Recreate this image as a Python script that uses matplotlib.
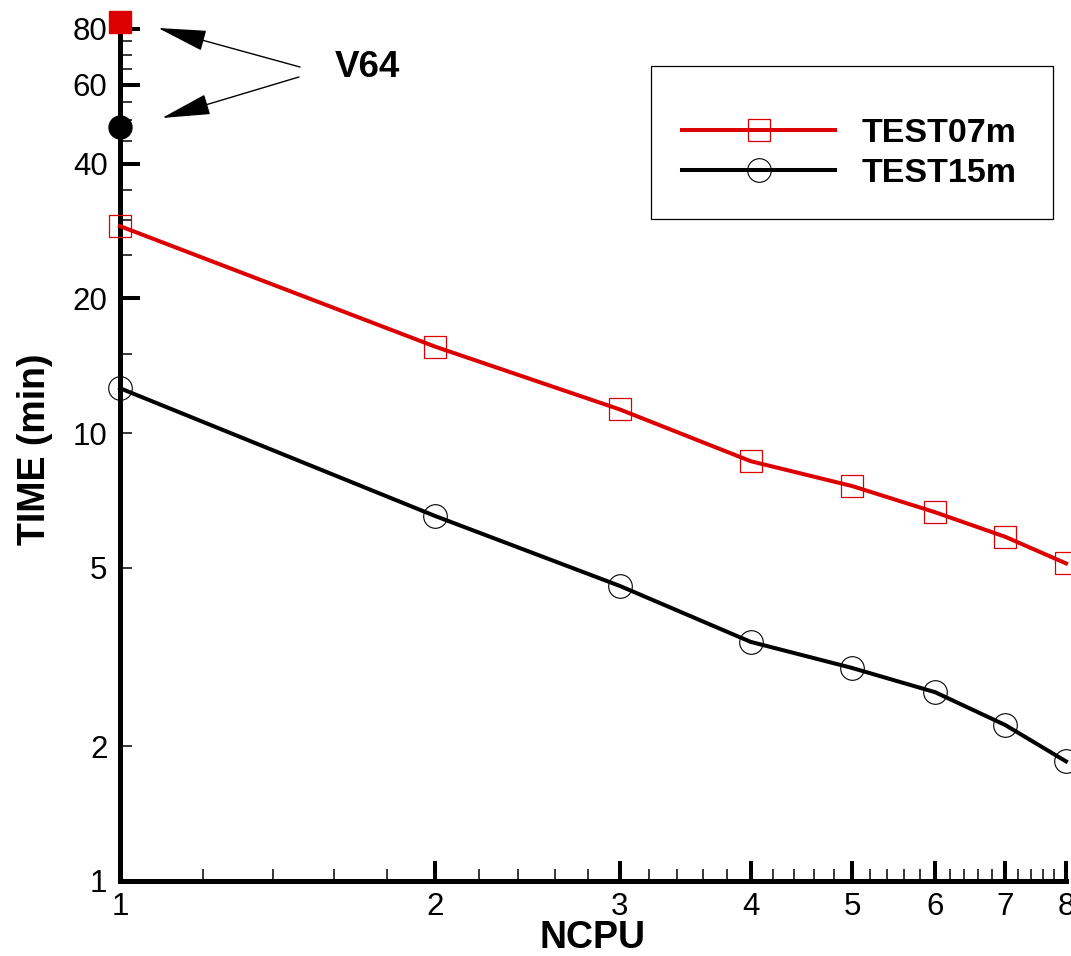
import matplotlib
matplotlib.use("Agg")
import matplotlib.pyplot as plt
from matplotlib.ticker import FixedLocator, FuncFormatter, NullFormatter
from matplotlib.patches import Rectangle

plt.rcParams['font.family'] = ['Liberation Sans', 'DejaVu Sans']

# ---- data ----
ncpu = [1, 2, 3, 4, 5, 6, 7, 8]
test07m = [29.0, 15.6, 11.3, 8.66, 7.62, 6.66, 5.87, 5.12]
test15m = [12.6, 6.53, 4.56, 3.42, 2.99, 2.64, 2.23, 1.85]
v64_ncpu = [1]
v64_test07m = [83.0]
v64_test15m = [48.2]
series_labels = ["TEST07m", "TEST15m"]
annot_text = "V64"

x_major = [1, 2, 3, 4, 5, 6, 7, 8]
x_minor = [round(1 + 0.2 * i, 1) for i in range(36) if (i % 5) != 0]
y_major = [20, 40, 60, 80]
y_minor = [1, 2, 5, 10, 15, 25, 30, 35, 45, 50, 55, 65, 70, 75]
y_minor_labelled = [1, 2, 5, 10]

RED = '#dc0000'
W, H = 1071, 956

fig = plt.figure(figsize=(W / 100, H / 100), dpi=100)
ax = fig.add_axes([120 / W, 1 - 881 / H, (1066 - 120) / W, (881 - 17) / H])
ax.set_xscale('log')
ax.set_yscale('log')

ax.plot(ncpu, test07m, color=RED, lw=2.9, marker='s', ms=15.5, mfc='none',
        mec=RED, mew=0.9, label=series_labels[0], clip_on=False, zorder=4)
ax.plot(ncpu, test15m, color='black', lw=2.9, marker='o', ms=17, mfc='none',
        mec='black', mew=0.8, label=series_labels[1], clip_on=False, zorder=4)
ax.plot(v64_ncpu, v64_test07m, ls='none', marker='s', ms=15.5, color=RED,
        clip_on=False, zorder=5)
ax.plot(v64_ncpu, v64_test15m, ls='none', marker='o', ms=16.5, color='black',
        clip_on=False, zorder=5)

ax.set_xlim(1, 8)
ax.set_ylim(1, 85)

for s in ['top', 'right']:
    ax.spines[s].set_visible(False)
for s in ['left', 'bottom']:
    ax.spines[s].set_linewidth(3.6)

ax.xaxis.set_major_locator(FixedLocator(x_major))
ax.xaxis.set_minor_locator(FixedLocator(x_minor))
ax.xaxis.set_major_formatter(FuncFormatter(lambda v, p: f"{v:g}"))
ax.xaxis.set_minor_formatter(NullFormatter())

ax.yaxis.set_major_locator(FixedLocator(y_major))
ax.yaxis.set_minor_locator(FixedLocator(y_minor))
ax.yaxis.set_major_formatter(FuncFormatter(lambda v, p: f"{v:g}"))
ax.yaxis.set_minor_formatter(FuncFormatter(
    lambda v, p: f"{v:g}" if any(abs(v - t) < 1e-6 for t in y_minor_labelled) else ""))

ax.tick_params(which='major', direction='in', length=14.4, width=2.9,
               labelsize=22.5, color='black')
ax.tick_params(which='minor', direction='in', length=8.6, width=1.1,
               labelsize=22.5, color='black')
ax.tick_params(axis='x', which='both', pad=8)
ax.tick_params(axis='y', which='both', pad=9)

ax.set_xlabel("NCPU", fontsize=27, fontweight='bold')
ax.set_ylabel("TIME (min)", fontsize=27, fontweight='bold')
ax.xaxis.set_label_coords(0.5, -0.045)
ax.yaxis.set_label_coords(-0.071, 0.5)

# V64 annotation
ax.text(0.262, 0.942, annot_text, transform=ax.transAxes, fontsize=26.5,
        fontweight='bold', ha='center', va='center')
arrow_props = dict(arrowstyle='-|>,head_length=1.55,head_width=0.33',
                   mutation_scale=20, lw=1.0, color='black',
                   shrinkA=0, shrinkB=0)
ax.annotate('', xy=(0.0402, 0.9873), xytext=(0.1903, 0.9421),
            xycoords='axes fraction', textcoords='axes fraction',
            arrowprops=arrow_props, annotation_clip=False)
ax.annotate('', xy=(0.0444, 0.8831), xytext=(0.1892, 0.9306),
            xycoords='axes fraction', textcoords='axes fraction',
            arrowprops=arrow_props, annotation_clip=False)

# legend
leg = fig.legend(loc='upper left', bbox_to_anchor=(682 / W, 1 - 118 / H),
                 frameon=False, borderpad=0, borderaxespad=0,
                 handlelength=4.5, handletextpad=0.78, labelspacing=0.27,
                 numpoints=1, prop={'size': 24.5, 'weight': 'bold'})
fig.patches.append(Rectangle((651 / W, 1 - 219 / H), (1053 - 651) / W,
                             (219 - 66) / H, transform=fig.transFigure,
                             fill=False, lw=0.9, edgecolor='black'))

fig.savefig('out.png', dpi=100)
